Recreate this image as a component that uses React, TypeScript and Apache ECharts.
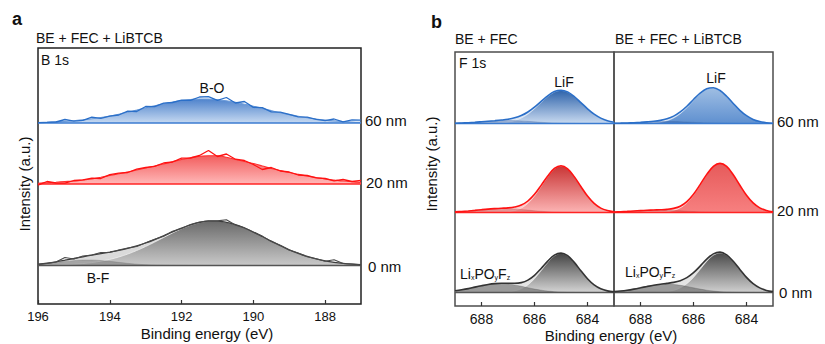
import React, { useEffect, useRef } from "react";
import * as echarts from "echarts";

const FONT = 'Arial, "Liberation Sans", Helvetica, sans-serif';

// ---------- Panel a : B 1s (binding energy, eV) ----------
const XA = [196, 195.75, 195.5, 195.25, 195, 194.75, 194.5, 194.25, 194, 193.75, 193.5, 193.25, 193, 192.75, 192.5, 192.25, 192, 191.75, 191.5, 191.25, 191, 190.75, 190.5, 190.25, 190, 189.75, 189.5, 189.25, 189, 188.75, 188.5, 188.25, 188, 187.75, 187.5, 187.25, 187];
const A60_FIT = [0.5, 0.8, 1.1, 1.6, 2.3, 3.1, 4.2, 5.5, 7.0, 8.8, 10.8, 12.9, 15.1, 17.2, 19.2, 21.0, 22.5, 23.4, 24.0, 23.9, 23.3, 22.2, 20.7, 18.8, 16.8, 14.6, 12.4, 10.3, 8.4, 6.7, 5.2, 4.0, 2.9, 2.1, 1.5, 1.0, 0.7];
const A60_RAW = [0.3, 0.6, 1.0, 3.5, 1.8, 2.6, 5.8, 4.6, 6.8, 8.0, 11.9, 11.5, 16.5, 16.4, 19.8, 20.5, 22.8, 22.6, 26.0, 26.4, 22.6, 25.5, 20.0, 21.5, 15.6, 15.3, 11.2, 10.8, 8.6, 6.1, 5.8, 3.6, 2.4, 4.0, 1.2, 3.2, 2.8];
const A20_FIT = [0.8, 1.3, 1.8, 2.4, 3.0, 4.0, 5.0, 6.7, 8.5, 10.2, 12.0, 14.0, 16.0, 18.0, 20.0, 22.3, 24.5, 26.3, 27.8, 28.3, 28.2, 26.8, 24.5, 22.5, 20.5, 18.0, 15.5, 13.5, 11.5, 9.7, 8.0, 6.5, 5.0, 4.0, 3.0, 2.2, 1.5];
const A20_RAW = [-1.2, 2.5, 1.0, 0.8, 3.5, 4.2, 5.8, 5.5, 9.3, 10.8, 11.5, 14.8, 16.5, 17.6, 21.0, 22.0, 25.8, 26.0, 28.5, 33.5, 27.5, 30.0, 24.8, 23.5, 19.5, 14.5, 16.5, 13.0, 12.0, 9.0, 8.5, 6.2, 5.5, 3.2, 4.5, 2.5, 3.5];
const A0_MAIN = [0.15, 0.27, 0.46, 0.77, 1.23, 1.93, 2.92, 4.29, 6.13, 8.5, 11.45, 14.97, 19.0, 23.4, 28.0, 32.6, 36.8, 40.3, 42.9, 44.3, 44.4, 43.2, 40.9, 37.5, 33.5, 29.0, 24.3, 19.9, 15.7, 12.1, 9.04, 6.56, 4.62, 3.16, 2.1, 1.35, 0.85];
const A0_BF_DARK = [1.22, 1.99, 2.95, 3.98, 4.86, 5.4, 5.46, 5.0, 4.17, 3.16, 2.17, 1.36, 0.77, 0.4, 0.19, 0.08, 0.03, 0, 0, 0, 0, 0, 0, 0, 0, 0, 0, 0, 0, 0, 0, 0, 0, 0, 0, 0, 0];
const A0_BF_LIGHT = [0.06, 0.14, 0.29, 0.53, 0.9, 1.4, 2.0, 2.61, 3.13, 3.45, 3.48, 3.22, 2.73, 2.12, 1.51, 0.99, 0.59, 0.33, 0.16, 0.08, 0.03, 0, 0, 0, 0, 0, 0, 0, 0, 0, 0, 0, 0, 0, 0, 0, 0];
const A0_RAW = [1.0, 2.0, 3.5, 8.0, 6.5, 9.5, 10.5, 13.0, 13.0, 15.5, 17.5, 19.0, 22.8, 26.3, 29.2, 34.2, 37.0, 41.0, 43.5, 44.8, 44.6, 45.8, 40.5, 37.8, 33.2, 29.4, 24.0, 20.3, 15.5, 12.4, 8.8, 6.8, 4.3, 5.8, 2.0, 1.5, 0.8];
const A_TICKS = [196, 194, 192, 190, 188];

// ---------- Panel b : F 1s ----------
const XB = [689, 688.75, 688.5, 688.25, 688, 687.75, 687.5, 687.25, 687, 686.75, 686.5, 686.25, 686, 685.75, 685.5, 685.25, 685, 684.75, 684.5, 684.25, 684, 683.75, 683.5, 683.25, 683];
// BE + FEC
const BL60_LIF = [0, 0, 0, 0, 0.02, 0.07, 0.21, 0.55, 1.3, 2.8, 5.4, 9.3, 14.7, 20.9, 26.9, 31.4, 33, 31.4, 26.9, 20.9, 14.7, 9.3, 5.4, 2.8, 1.3];
const BL60_SH = [0.3, 0.5, 0.8, 1.2, 1.7, 2.2, 2.6, 2.9, 3, 2.9, 2.6, 2.2, 1.7, 1.2, 0.8, 0.5, 0.3, 0.2, 0.1, 0, 0, 0, 0, 0, 0];
const BL20_LIF = [0, 0, 0, 0, 0, 0.02, 0.07, 0.24, 0.7, 1.9, 4.4, 9.1, 16.4, 25.9, 35.8, 43.6, 46.5, 43.6, 35.8, 25.9, 16.4, 9.1, 4.4, 1.9, 0.7];
const BL20_SH = [0.6, 1.0, 1.5, 2.1, 2.8, 3.4, 3.8, 4.0, 3.9, 3.6, 3.0, 2.4, 1.75, 1.2, 0.76, 0.45, 0.25, 0.13, 0.06, 0.03, 0, 0, 0, 0, 0];
const BL0_LIF = [0, 0, 0, 0, 0, 0.02, 0.06, 0.2, 0.6, 1.6, 3.7, 7.6, 13.8, 21.7, 30.0, 36.6, 39, 36.6, 30.0, 21.7, 13.8, 7.6, 3.7, 1.6, 0.6];
const BL0_SH = [1.7, 2.7, 3.9, 5.4, 6.8, 8.0, 8.8, 9.0, 8.6, 7.6, 6.2, 4.8, 3.4, 2.3, 1.4, 0.8, 0.4, 0.2, 0.1, 0.04, 0, 0, 0, 0, 0];
// BE + FEC + LiBTCB
const BR60_LIF = [0, 0, 0, 0, 0.05, 0.17, 0.47, 1.2, 2.7, 5.4, 9.8, 15.8, 22.9, 29.6, 34.3, 35.4, 32.8, 27.1, 20.0, 13.2, 7.8, 4.1, 1.95, 0.8, 0.3];
const BR60_SH = [0.2, 0.35, 0.55, 0.8, 1.1, 1.45, 1.75, 1.95, 2, 1.95, 1.75, 1.45, 1.1, 0.8, 0.55, 0.35, 0.2, 0.1, 0.05, 0, 0, 0, 0, 0, 0];
const BR20_LIF = [0, 0, 0, 0, 0, 0.02, 0.07, 0.25, 0.75, 2.0, 4.6, 9.6, 17.3, 27.3, 37.7, 46.0, 49, 46.0, 37.7, 27.3, 17.3, 9.6, 4.6, 2.0, 0.75];
const BR20_SH = [0.5, 0.75, 1.1, 1.5, 1.9, 2.2, 2.45, 2.5, 2.4, 2.1, 1.7, 1.3, 0.95, 0.6, 0.4, 0.2, 0.1, 0.05, 0, 0, 0, 0, 0, 0, 0];
const BR0_LIF = [0, 0, 0, 0, 0, 0.03, 0.1, 0.3, 0.85, 2.1, 4.6, 8.8, 15.1, 23.0, 31.1, 37.2, 39.5, 37.2, 31.1, 23.0, 15.1, 8.8, 4.6, 2.1, 0.85];
const BR0_SH = [0.84, 1.44, 2.28, 3.39, 4.68, 6.02, 7.2, 8.0, 8.3, 8.0, 7.2, 6.02, 4.68, 3.39, 2.28, 1.44, 0.84, 0.46, 0.23, 0.11, 0.05, 0.02, 0, 0, 0];
const B_TICKS = [688, 686, 684];

const DEPTH_LABELS = ["60 nm", "20 nm", "0 nm"];

// vertical stacking offsets (axis units) for 60 / 20 / 0 nm
const OFF_A = [181, 120, 38.5];
const OFF_B = [182.5, 93.5, 13.5];

const BLUE = { line: "#2b6fc8", light: "#d6e3f4", base: "#3b7bd0" };
const RED = { line: "#ff1212", light: "#fdcaca", base: "#ff2424" };
const GREY = { line: "#333333", light: "#e4e4e4", base: "#555555" };

function buildOption() {
  const S: any[] = [];
  let z = 3;
  const grad = (top: string, bottom: string) =>
    new echarts.graphic.LinearGradient(0, 0, 0, 1, [
      { offset: 0, color: top },
      { offset: 1, color: bottom },
    ]);
  const add = (g: number, xs: number[], ys: number[], off: number, o: any) => {
    S.push({
      type: "line",
      xAxisIndex: g,
      yAxisIndex: g,
      data: xs.map((x, i) => [x, ys[i] + off]),
      smooth: o.smooth === false ? false : 0.35,
      symbol: "none",
      silent: true,
      z: z++,
      lineStyle: o.line ? { color: o.line, width: o.lw ?? 1.5 } : { width: 0, opacity: 0 },
      areaStyle: o.fill ? { color: o.fill, origin: off, opacity: 1 } : undefined,
    });
  };
  const baseline = (g: number, xs: number[], off: number, color: string) => {
    S.push({
      type: "line",
      xAxisIndex: g,
      yAxisIndex: g,
      data: [
        [xs[0], off],
        [xs[xs.length - 1], off],
      ],
      symbol: "none",
      silent: true,
      z: z++,
      lineStyle: { color, width: 1.6 },
    });
  };

  // ---- panel a ----
  // 60 nm
  add(0, XA, A60_FIT, OFF_A[0], { fill: grad("#4f83cc", "#c6d9f1"), line: "#6a9ad9", lw: 1.1 });
  baseline(0, XA, OFF_A[0], BLUE.base);
  add(0, XA, A60_RAW, OFF_A[0], { line: BLUE.line, lw: 1.3, smooth: false });
  // 20 nm
  add(0, XA, A20_FIT, OFF_A[1], { fill: grad("#f25e5e", "#ffb8b8"), line: "#ff3030", lw: 1.1 });
  baseline(0, XA, OFF_A[1], RED.base);
  add(0, XA, A20_RAW, OFF_A[1], { line: RED.line, lw: 1.3, smooth: false });
  // 0 nm
  const a0env = A0_MAIN.map((v, i) => v + A0_BF_DARK[i] + A0_BF_LIGHT[i]);
  add(0, XA, a0env, OFF_A[2], { fill: "#dadada" });
  add(0, XA, A0_BF_LIGHT, OFF_A[2], { fill: "#cfcfcf", line: "#ececec", lw: 0.7 });
  add(0, XA, A0_MAIN, OFF_A[2], { fill: grad("#6a6a6a", "#c9c9c9"), line: "#efefef", lw: 0.8 });
  add(0, XA, A0_BF_DARK, OFF_A[2], { fill: "rgba(100,100,100,0.45)", line: "rgba(120,120,120,0.6)", lw: 0.6 });
  baseline(0, XA, OFF_A[2], GREY.base);
  add(0, XA, a0env, OFF_A[2], { line: "#3d3d3d", lw: 1.3 });
  add(0, XA, A0_RAW, OFF_A[2], { line: "#4a4a4a", lw: 1.1, smooth: false });

  // ---- panel b ----
  const specB = (g: number, lif: number[], sh: number[], off: number, c: any, top: string, bottom: string, shFill: string) => {
    const env = lif.map((v, i) => v + sh[i]);
    add(g, XB, env, off, { fill: c.light });
    add(g, XB, lif, off, { fill: grad(top, bottom), line: "rgba(255,255,255,0.55)", lw: 0.8 });
    add(g, XB, sh, off, { fill: shFill, line: shFill, lw: 0.6 });
    baseline(g, XB, off, c.base);
    add(g, XB, env, off, { line: c.line, lw: 1.6 });
  };
  specB(1, BL60_LIF, BL60_SH, OFF_B[0], BLUE, "#2f64ab", "#c9daf0", "rgba(40,80,150,0.35)");
  specB(1, BL20_LIF, BL20_SH, OFF_B[1], RED, "#c93535", "#fcb4b4", "rgba(170,30,30,0.3)");
  specB(1, BL0_LIF, BL0_SH, OFF_B[2], GREY, "#444444", "#d4d4d4", "rgba(80,80,80,0.5)");
  specB(2, BR60_LIF, BR60_SH, OFF_B[0], BLUE, "#9fbee3", "#5f90d0", "rgba(40,80,150,0.35)");
  specB(2, BR20_LIF, BR20_SH, OFF_B[1], RED, "#e65a5a", "#f78080", "rgba(170,30,30,0.3)");
  specB(2, BR0_LIF, BR0_SH, OFF_B[2], GREY, "#4a4a4a", "#d0d0d0", "rgba(80,80,80,0.5)");

  const xAxisBase = (min: number, max: number, ticks: number[], g: number, fs: number) => ({
    type: "value",
    gridIndex: g,
    min,
    max,
    inverse: true,
    axisLine: { show: false },
    splitLine: { show: false },
    axisTick: { show: true, inside: true, length: 4, customValues: ticks, lineStyle: { color: "#333", width: 1.2 } },
    axisLabel: { customValues: ticks, color: "#111", fontSize: fs, fontFamily: FONT, margin: 6 },
  });
  const yAxisBase = (g: number, max: number) => ({
    type: "value",
    gridIndex: g,
    min: 0,
    max,
    show: false,
  });

  const T = (text: string, x: number, y: number, size: number, extra: any = {}) => ({
    type: "text",
    x,
    y,
    z: 100,
    rotation: extra.rotation || 0,
    silent: true,
    style: {
      text,
      fontSize: size,
      fontFamily: FONT,
      fontWeight: extra.bold ? "bold" : "normal",
      fill: "#111",
      textAlign: extra.align || "left",
      textVerticalAlign: "middle",
    },
  });
  const sub = (x: number, y: number) => ({
    type: "text",
    x,
    y,
    z: 100,
    silent: true,
    style: {
      text: "{n|Li}{s|x}{n|PO}{s|y}{n|F}{s|z}",
      textAlign: "left",
      textVerticalAlign: "middle",
      rich: {
        n: { fontSize: 14, fontFamily: FONT, fill: "#111", color: "#111", lineHeight: 16, verticalAlign: "bottom" },
        s: { fontSize: 7, fontFamily: FONT, fill: "#111", color: "#111", lineHeight: 7, verticalAlign: "bottom" },
      },
    },
  });

  const graphic = [
    T("a", 12, 19, 18, { bold: true }),
    T("BE + FEC + LiBTCB", 36, 37.5, 14),
    T("B 1s", 41, 60, 14),
    T("B-O", 212, 88, 14, { align: "center" }),
    T("B-F", 98, 278, 14, { align: "center" }),
    T(DEPTH_LABELS[0], 365, 120, 15),
    T(DEPTH_LABELS[1], 366, 182.5, 15),
    T(DEPTH_LABELS[2], 368, 266, 15),
    T("Intensity (a.u.)", 24.5, 184, 15, { align: "center", rotation: Math.PI / 2 }),
    T("Binding energy (eV)", 207, 333.5, 15, { align: "center" }),

    T("b", 431, 21.5, 18, { bold: true }),
    T("BE + FEC", 455, 39, 14),
    T("BE + FEC + LiBTCB", 615, 39, 14),
    T("F 1s", 459, 63, 14),
    T("LiF", 564, 81.5, 14, { align: "center" }),
    T("LiF", 716, 77.5, 14, { align: "center" }),
    sub(460, 272.5),
    sub(625, 271),
    T(DEPTH_LABELS[0], 777, 121, 15),
    T(DEPTH_LABELS[1], 777, 210, 15),
    T(DEPTH_LABELS[2], 779, 292.5, 15),
    T("Intensity (a.u.)", 431.5, 164, 15, { align: "center", rotation: Math.PI / 2 }),
    T("Binding energy (eV)", 611, 335, 15, { align: "center" }),
  ];

  return {
    animation: false,
    backgroundColor: "#ffffff",
    grid: [
      { left: 38, top: 48, width: 323, height: 256, show: true, borderColor: "#222", borderWidth: 1.5, backgroundColor: "transparent", containLabel: false, outerBoundsMode: "none" },
      { left: 455, top: 52, width: 159, height: 254, show: true, borderColor: "#4d4d4d", borderWidth: 1.5, backgroundColor: "transparent", containLabel: false, outerBoundsMode: "none" },
      { left: 614, top: 52, width: 159, height: 254, show: true, borderColor: "#4d4d4d", borderWidth: 1.5, backgroundColor: "transparent", containLabel: false, outerBoundsMode: "none" },
    ],
    xAxis: [xAxisBase(187, 196, A_TICKS, 0, 13), xAxisBase(683, 689, B_TICKS, 1, 14), xAxisBase(683, 689, B_TICKS, 2, 14)],
    yAxis: [yAxisBase(0, 256), yAxisBase(1, 254), yAxisBase(2, 254)],
    series: S,
    graphic,
  };
}

export default function App() {
  const ref = useRef<HTMLDivElement>(null);
  useEffect(() => {
    document.body.style.margin = "0";
    if (!ref.current) return;
    const chart = echarts.init(ref.current, null, { renderer: "svg" });
    chart.setOption(buildOption() as any);
    return () => chart.dispose();
  }, []);
  return <div ref={ref} style={{ position: "fixed", left: 0, top: 0, width: 825, height: 344 }} />;
}
